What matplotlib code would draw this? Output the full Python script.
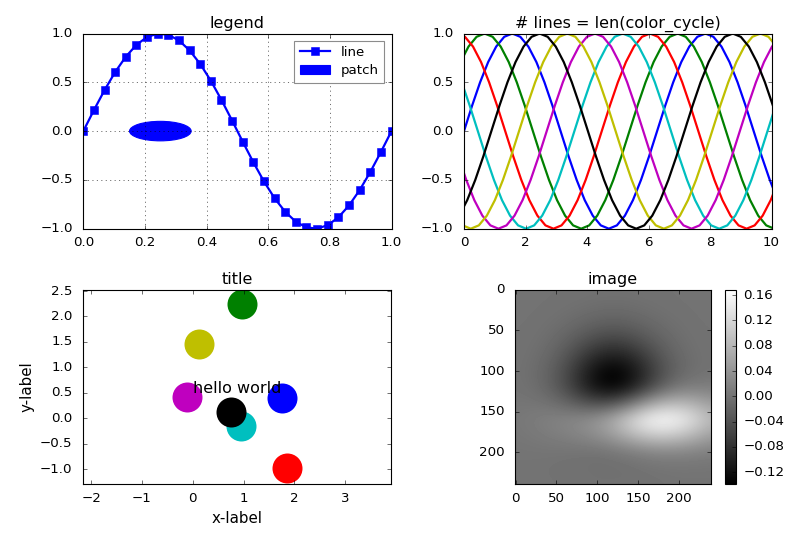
import numpy as np
import matplotlib
matplotlib.use('Agg')
import matplotlib.pyplot as plt
from matplotlib.patches import Circle

plt.style.use('classic')
plt.rcParams['xtick.major.pad'] = 7
plt.rcParams['ytick.major.pad'] = 9.5
plt.rcParams['axes.labelsize'] = 13.5

# --- legend panel: square-marker line plus one round patch
line_x = [0.0, 0.0345, 0.069, 0.1034, 0.1379, 0.1724, 0.2069, 0.2414, 0.2759, 0.3103,
          0.3448, 0.3793, 0.4138, 0.4483, 0.4828, 0.5172, 0.5517, 0.5862, 0.6207, 0.6552,
          0.6897, 0.7241, 0.7586, 0.7931, 0.8276, 0.8621, 0.8966, 0.931, 0.9655, 1.0]
line_y = [0.0, 0.215, 0.42, 0.605, 0.762, 0.884, 0.964, 0.999, 0.987, 0.929,
          0.827, 0.688, 0.516, 0.319, 0.108, -0.108, -0.319, -0.516, -0.688, -0.827,
          -0.929, -0.987, -0.999, -0.964, -0.884, -0.762, -0.605, -0.42, -0.215, 0.0]
patch_center = (0.25, 0.0)
patch_radius = 0.1

# --- colour cycle panel: one period of the wave, and where each colour is shifted to
wave_y = [0, 0.259, 0.5, 0.707, 0.866, 0.966, 1, 0.966, 0.866, 0.707, 0.5, 0.259,
          0, -0.259, -0.5, -0.707, -0.866, -0.966, -1, -0.966, -0.866, -0.707, -0.5, -0.259]
wave_period = 6.28
wave_shift = [0.0, 0.90, 1.80, 2.69, 3.59, 4.49, 5.39]

# --- title panel: big dots, in colour cycle order b g r c m y k
dot_x = [1.75, 0.96, 1.85, 0.94, -0.12, 0.12, 0.75]
dot_y = [0.40, 2.25, -0.98, -0.15, 0.41, 1.45, 0.12]
dot_colors = ['b', 'g', 'r', 'c', 'm', 'y', 'k']

# --- image panel: values on a 20 px grid (rows top to bottom)
img_step = 20
img_z = [
    [0, 0, 0, -0.001, -0.001, -0.002, -0.002, -0.002, -0.001, -0.001, 0, 0, 0],
    [0, 0, -0.001, -0.002, -0.004, -0.006, -0.007, -0.006, -0.004, -0.002, -0.001, 0, 0],
    [0, -0.001, -0.003, -0.007, -0.013, -0.019, -0.022, -0.019, -0.013, -0.007, -0.003, -0.001, 0],
    [-0.001, -0.002, -0.007, -0.017, -0.031, -0.046, -0.052, -0.046, -0.031, -0.017, -0.007, -0.002, -0.001],
    [-0.001, -0.004, -0.013, -0.031, -0.059, -0.085, -0.097, -0.085, -0.059, -0.031, -0.013, -0.004, -0.001],
    [-0.002, -0.006, -0.019, -0.045, -0.084, -0.123, -0.139, -0.122, -0.083, -0.043, -0.017, -0.005, -0.001],
    [-0.001, -0.005, -0.018, -0.045, -0.085, -0.123, -0.136, -0.113, -0.068, -0.025, 0.002, 0.010, 0.010],
    [0.002, 0.002, -0.002, -0.014, -0.032, -0.046, -0.037, -0.002, 0.044, 0.076, 0.084, 0.072, 0.051],
    [0.005, 0.010, 0.016, 0.022, 0.029, 0.044, 0.073, 0.116, 0.154, 0.169, 0.157, 0.125, 0.086],
    [0.003, 0.006, 0.010, 0.015, 0.022, 0.033, 0.051, 0.076, 0.097, 0.105, 0.096, 0.076, 0.052],
    [0.001, 0.001, 0.001, 0, -0.001, -0.002, 0.002, 0.008, 0.016, 0.020, 0.020, 0.017, 0.012],
    [0, 0, -0.001, -0.002, -0.003, -0.005, -0.005, -0.004, -0.002, 0, 0.001, 0.001, 0.001],
    [0, 0, 0, -0.001, -0.001, -0.002, -0.002, -0.002, -0.001, -0.001, 0, 0, 0],
]
cbar_ticks = [-0.12, -0.08, -0.04, 0.00, 0.04, 0.08, 0.12, 0.16]

W, H = 797, 546
DPI = 80
fig = plt.figure(figsize=(W / DPI, H / DPI), dpi=DPI)


def rect(x0, y0, x1, y1):
    # pixel box -> figure fraction
    return [x0 / W, 1 - y1 / H, (x1 - x0) / W, (y1 - y0) / H]


# top left
ax1 = fig.add_axes(rect(83.3, 33.5, 391.5, 228.7))
ax1.plot(line_x, line_y, 's-', color='b', mec='b', lw=2, ms=8, label='line')
ax1.add_patch(Circle(patch_center, patch_radius, color='b', label='patch'))
ax1.set_xlim(0, 1)
ax1.set_ylim(-1, 1)
ax1.grid(True)
leg = ax1.legend(loc='upper right', numpoints=1, fontsize=12, handlelength=2.3,
                 labelspacing=0.4, borderaxespad=0.55)
leg.get_frame().set_edgecolor('0.55')
ax1.set_title('legend')

# top right
ax2 = fig.add_axes(rect(464, 33.5, 771.5, 228.7))
wave = np.array(list(wave_y) * 3 + [wave_y[0]])
u = np.arange(len(wave)) * wave_period / len(wave_y)
for s in wave_shift:
    ax2.plot(u - s, wave, lw=2)
ax2.set_xlim(0, 10)
ax2.set_ylim(-1, 1)
ax2.set_title('# lines = len(color_cycle)')

# bottom left
ax3 = fig.add_axes(rect(83, 289.5, 391, 484.3))
for x, y, c in zip(dot_x, dot_y, dot_colors):
    ax3.plot(x, y, 'o', color=c, mec=c, mew=0, ms=27)
ax3.text(0, 0.5, 'hello world', fontsize='large')
ax3.set_xlim(-2.16, 3.9)
ax3.set_ylim(-1.3, 2.53)
ax3.set_xlabel('x-label')
ax3.set_ylabel('y-label')
ax3.set_title('title')

# bottom right
ax4 = fig.add_axes(rect(515.3, 289.5, 710.8, 484.3))
n = len(img_z)
half = img_step / 2
im = ax4.imshow(np.array(img_z), cmap='gray', interpolation='bicubic',
                extent=(-half, (n - 1) * img_step + half, (n - 1) * img_step + half, -half),
                aspect='auto')
ax4.set_xlim(-0.5, 239.5)
ax4.set_ylim(239.5, -0.5)
ax4.set_xticks([0, 50, 100, 150, 200])
ax4.set_yticks([0, 50, 100, 150, 200])
ax4.set_title('image')
cax = fig.add_axes(rect(725.3, 289.5, 735.8, 484.3))
cb = fig.colorbar(im, cax=cax, ticks=cbar_ticks)
cb.ax.set_yticklabels([('%.2f' % t).replace('-', '\u2212') for t in cbar_ticks])
cb.ax.tick_params(pad=7)

fig.savefig('out.png', dpi=DPI, facecolor='white')
